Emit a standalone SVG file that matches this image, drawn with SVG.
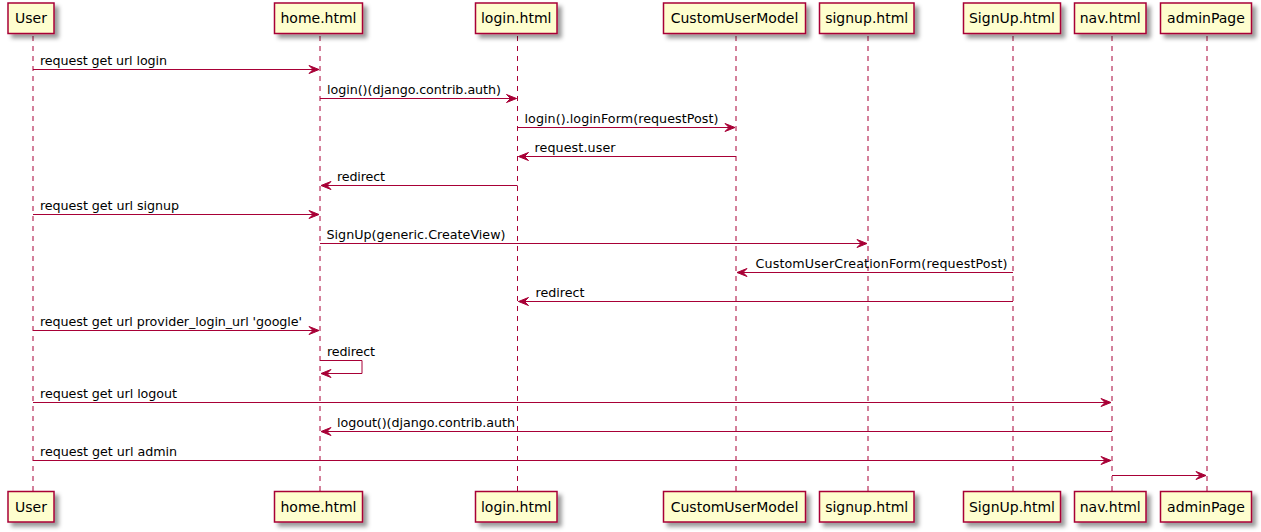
<svg xmlns="http://www.w3.org/2000/svg" width="1261" height="532" viewBox="0 0 1261 532">
<defs>
<filter id="sh" x="-1" y="-1" width="300%" height="300%">
<feGaussianBlur in="SourceAlpha" stdDeviation="2" result="b"/>
<feColorMatrix in="b" type="matrix" values="0 0 0 0 0  0 0 0 0 0  0 0 0 0 0  0 0 0 0.4 0" result="c"/>
<feOffset in="c" dx="4" dy="4" result="o"/>
<feMerge><feMergeNode in="o"/><feMergeNode in="SourceGraphic"/></feMerge>
</filter>
<marker id="ah" markerWidth="12" markerHeight="10" viewBox="0 0 12 10" refX="11" refY="5" orient="auto" markerUnits="userSpaceOnUse">
<polygon points="1,1 11,5 1,9 5,5" fill="#A80036" stroke="#A80036" stroke-width="1"/>
</marker>
</defs>
<style>
.box{fill:#FEFECE;stroke:#A80036;stroke-width:1.5;filter:url(#sh)}
.life{stroke:#A80036;stroke-width:1;stroke-dasharray:5,5;fill:none}
.pn{font-family:"DejaVu Sans",sans-serif;font-size:14px;fill:#000;text-anchor:middle}
.msg{stroke:#A80036;stroke-width:1;fill:none;marker-end:url(#ah)}
.ml{font-family:"DejaVu Sans",sans-serif;font-size:12.7px;fill:#000}
</style>
<rect width="1261" height="532" fill="#FFFFFF"/>
<g id="lifelines">
<line class="life" x1="33" y1="36" x2="33" y2="492"/>
<line class="life" x1="320" y1="36" x2="320" y2="492"/>
<line class="life" x1="517.5" y1="36" x2="517.5" y2="492"/>
<line class="life" x1="736" y1="36" x2="736" y2="492"/>
<line class="life" x1="868" y1="36" x2="868" y2="492"/>
<line class="life" x1="1013" y1="36" x2="1013" y2="492"/>
<line class="life" x1="1112" y1="36" x2="1112" y2="492"/>
<line class="life" x1="1207" y1="36" x2="1207" y2="492"/>
</g>
<g id="p-user">
<rect class="box" x="8" y="3" width="46" height="30.5"/><text class="pn" x="31" y="23">User</text>
<rect class="box" x="8" y="491.5" width="46" height="30.5"/><text class="pn" x="31" y="511.5">User</text>
</g>
<g id="p-home">
<rect class="box" x="274.5" y="3" width="88" height="30.5"/><text class="pn" x="318.5" y="23">home.html</text>
<rect class="box" x="274.5" y="491.5" width="88" height="30.5"/><text class="pn" x="318.5" y="511.5">home.html</text>
</g>
<g id="p-login">
<rect class="box" x="475.5" y="3" width="81.5" height="30.5"/><text class="pn" x="516.2" y="23">login.html</text>
<rect class="box" x="475.5" y="491.5" width="81.5" height="30.5"/><text class="pn" x="516.2" y="511.5">login.html</text>
</g>
<g id="p-cum">
<rect class="box" x="663.5" y="3" width="142" height="30.5"/><text class="pn" x="734.5" y="23">CustomUserModel</text>
<rect class="box" x="663.5" y="491.5" width="142" height="30.5"/><text class="pn" x="734.5" y="511.5">CustomUserModel</text>
</g>
<g id="p-signup">
<rect class="box" x="819.5" y="3" width="94.5" height="30.5"/><text class="pn" x="866.7" y="23">signup.html</text>
<rect class="box" x="819.5" y="491.5" width="94.5" height="30.5"/><text class="pn" x="866.7" y="511.5">signup.html</text>
</g>
<g id="p-SignUp">
<rect class="box" x="963.5" y="3" width="97" height="30.5"/><text class="pn" x="1012" y="23">SignUp.html</text>
<rect class="box" x="963.5" y="491.5" width="97" height="30.5"/><text class="pn" x="1012" y="511.5">SignUp.html</text>
</g>
<g id="p-nav">
<rect class="box" x="1074.5" y="3" width="71.5" height="30.5"/><text class="pn" x="1110.2" y="23">nav.html</text>
<rect class="box" x="1074.5" y="491.5" width="71.5" height="30.5"/><text class="pn" x="1110.2" y="511.5">nav.html</text>
</g>
<g id="p-admin">
<rect class="box" x="1160.5" y="3" width="91" height="30.5"/><text class="pn" x="1206" y="23">adminPage</text>
<rect class="box" x="1160.5" y="491.5" width="91" height="30.5"/><text class="pn" x="1206" y="511.5">adminPage</text>
</g>
<g id="connectors">
<line class="msg" x1="33" y1="69.5" x2="319" y2="69.5"/>
<text class="ml" x="40" y="64.5" textLength="127" lengthAdjust="spacing">request get url login</text>
<line class="msg" x1="320" y1="98.5" x2="516.5" y2="98.5"/>
<text class="ml" x="327" y="93.5" textLength="174" lengthAdjust="spacing">login()(django.contrib.auth)</text>
<line class="msg" x1="517.5" y1="127.5" x2="735" y2="127.5"/>
<text class="ml" x="524.5" y="122.5" textLength="194" lengthAdjust="spacing">login().loginForm(requestPost)</text>
<line class="msg" x1="736" y1="156.5" x2="518.5" y2="156.5"/>
<text class="ml" x="534.5" y="151.5" textLength="81" lengthAdjust="spacing">request.user</text>
<line class="msg" x1="517.5" y1="185.5" x2="321" y2="185.5"/>
<text class="ml" x="337" y="180.5" textLength="48" lengthAdjust="spacing">redirect</text>
<line class="msg" x1="33" y1="214.5" x2="319" y2="214.5"/>
<text class="ml" x="40" y="209.5" textLength="139" lengthAdjust="spacing">request get url signup</text>
<line class="msg" x1="320" y1="243.5" x2="867" y2="243.5"/>
<text class="ml" x="326.5" y="238.5" textLength="179" lengthAdjust="spacing">SignUp(generic.CreateView)</text>
<line class="msg" x1="1013" y1="272.5" x2="737" y2="272.5"/>
<text class="ml" x="755.5" y="267.5" textLength="252" lengthAdjust="spacing">CustomUserCreationForm(requestPost)</text>
<line class="msg" x1="1013" y1="301.5" x2="518.5" y2="301.5"/>
<text class="ml" x="535.5" y="296.5" textLength="49" lengthAdjust="spacing">redirect</text>
<line class="msg" x1="33" y1="330.5" x2="319" y2="330.5"/>
<text class="ml" x="40" y="325.5" textLength="262" lengthAdjust="spacing">request get url provider_login_url 'google'</text>
<polyline class="msg" points="320,360.5 362,360.5 362,373.5 321,373.5"/>
<text class="ml" x="327" y="355.5" textLength="48" lengthAdjust="spacing">redirect</text>
<line class="msg" x1="33" y1="402.5" x2="1111" y2="402.5"/>
<text class="ml" x="40" y="397.5" textLength="137" lengthAdjust="spacing">request get url logout</text>
<line class="msg" x1="1112" y1="431.5" x2="321" y2="431.5"/>
<text class="ml" x="337" y="426.5" textLength="178" lengthAdjust="spacing">logout()(django.contrib.auth</text>
<line class="msg" x1="33" y1="460.5" x2="1111" y2="460.5"/>
<text class="ml" x="40" y="455.5" textLength="137" lengthAdjust="spacing">request get url admin</text>
<line class="msg" x1="1112" y1="475.5" x2="1206" y2="475.5"/>
</g>
</svg>
